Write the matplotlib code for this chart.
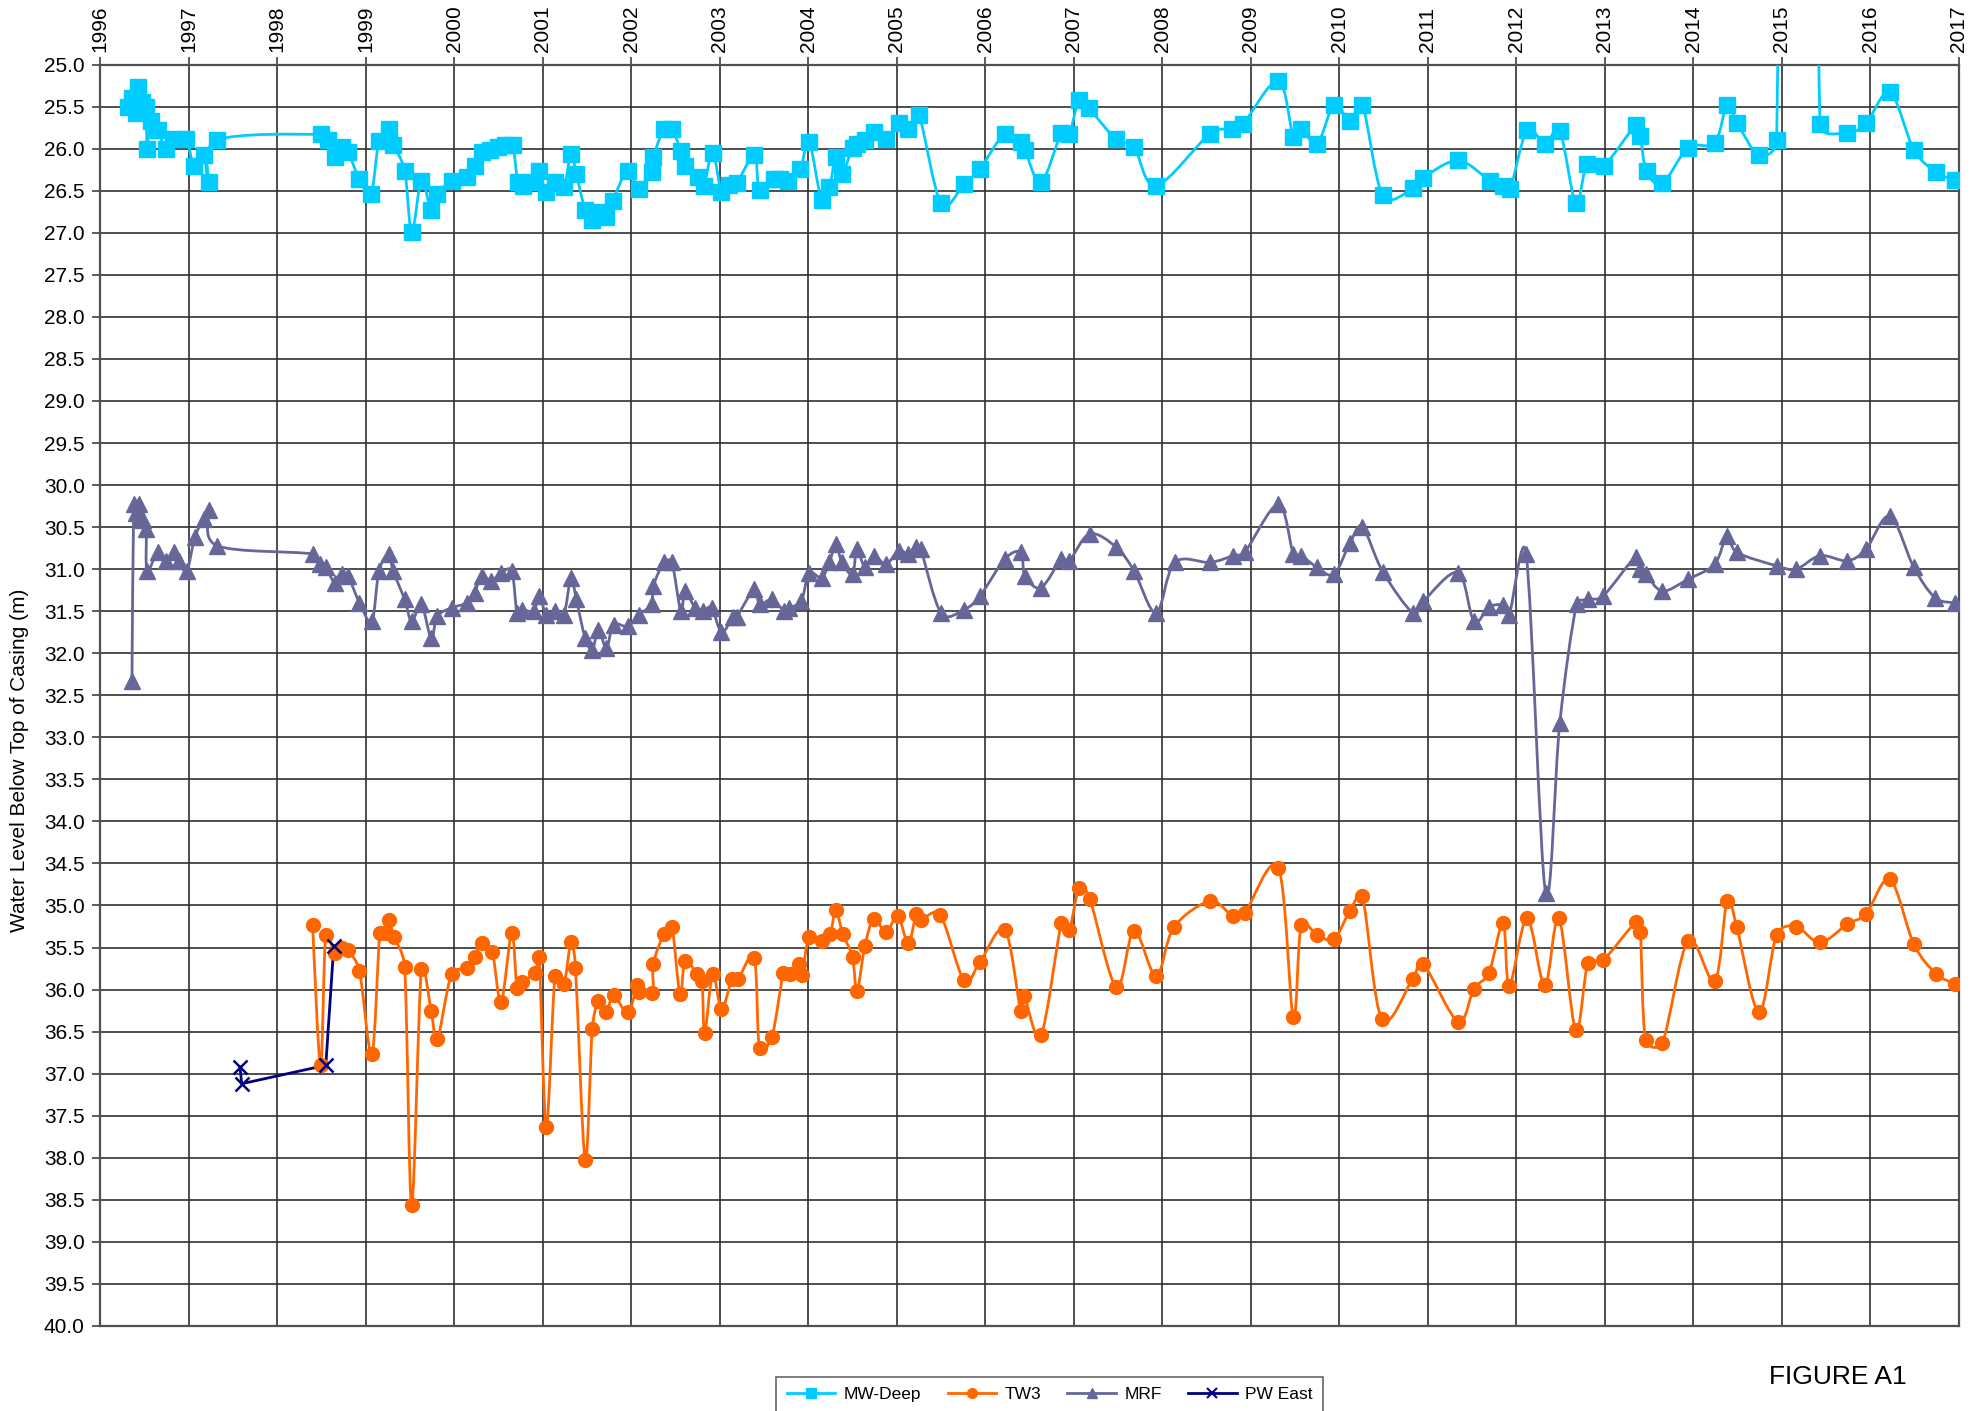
import numpy as np
import matplotlib
matplotlib.use("Agg")
import matplotlib.pyplot as plt
from matplotlib.path import Path
from matplotlib.patches import PathPatch
from matplotlib.lines import Line2D

plt.rcParams['font.family'] = ['Liberation Sans', 'DejaVu Sans']

# ---- data (decimal year, water level below top of casing in m) ----
mw_t = [1996.31, 1996.36, 1996.40, 1996.43, 1996.47, 1996.52, 1996.53, 1996.57, 1996.65, 1996.74,
        1996.82, 1996.97, 1997.06, 1997.17, 1997.23, 1997.32, 1998.49, 1998.57, 1998.65, 1998.73,
        1998.80, 1998.93, 1999.06, 1999.15, 1999.26, 1999.31, 1999.44, 1999.52, 1999.63, 1999.74,
        1999.81, 1999.97, 2000.15, 2000.23, 2000.31, 2000.40, 2000.50, 2000.57, 2000.66, 2000.72,
        2000.78, 2000.90, 2000.96, 2001.04, 2001.14, 2001.24, 2001.32, 2001.38, 2001.48, 2001.56,
        2001.63, 2001.71, 2001.79, 2001.96, 2002.09, 2002.23, 2002.25, 2002.37, 2002.46, 2002.56,
        2002.61, 2002.75, 2002.82, 2002.92, 2003.02, 2003.10, 2003.19, 2003.39, 2003.45, 2003.61,
        2003.68, 2003.77, 2003.91, 2004.01, 2004.15, 2004.24, 2004.31, 2004.38, 2004.50, 2004.55,
        2004.64, 2004.74, 2004.88, 2005.02, 2005.13, 2005.25, 2005.50, 2005.76, 2005.94, 2006.22,
        2006.40, 2006.45, 2006.63, 2006.86, 2006.95, 2007.06, 2007.17, 2007.48, 2007.68, 2007.93,
        2008.54, 2008.79, 2008.91, 2009.31, 2009.48, 2009.57, 2009.75, 2009.94, 2010.12, 2010.26,
        2010.49, 2010.83, 2010.94, 2011.34, 2011.70, 2011.85, 2011.93, 2012.12, 2012.32, 2012.49,
        2012.67, 2012.80, 2012.99, 2013.35, 2013.40, 2013.47, 2013.65, 2013.94, 2014.24, 2014.38,
        2014.49, 2014.74, 2014.94, 2015.16, 2015.43, 2015.74, 2015.95, 2016.22, 2016.49, 2016.74,
        2016.95]
mw_v = [25.50, 25.40, 25.58, 25.27, 25.45, 25.50, 26.00, 25.67, 25.78, 26.00,
        25.88, 25.88, 26.20, 26.08, 26.40, 25.90, 25.83, 25.90, 26.10, 25.98,
        26.04, 26.36, 26.54, 25.91, 25.76, 25.95, 26.26, 26.99, 26.38, 26.73,
        26.54, 26.38, 26.34, 26.20, 26.04, 26.02, 25.98, 25.96, 25.96, 26.40,
        26.44, 26.40, 26.26, 26.52, 26.40, 26.46, 26.06, 26.30, 26.73, 26.85,
        26.75, 26.81, 26.62, 26.26, 26.48, 26.28, 26.10, 25.76, 25.76, 26.03,
        26.20, 26.34, 26.44, 26.05, 26.52, 26.43, 26.41, 26.08, 26.49, 26.36,
        26.36, 26.38, 26.24, 25.92, 26.61, 26.46, 26.10, 26.30, 25.99, 25.94,
        25.90, 25.80, 25.89, 25.70, 25.77, 25.60, 26.65, 26.42, 26.24, 25.82,
        25.92, 26.02, 26.40, 25.81, 25.82, 25.42, 25.52, 25.89, 25.98, 26.44,
        25.82, 25.76, 25.71, 25.19, 25.86, 25.76, 25.94, 25.48, 25.67, 25.48,
        26.55, 26.47, 26.35, 26.14, 26.38, 26.44, 26.48, 25.78, 25.94, 25.79,
        26.64, 26.18, 26.20, 25.72, 25.85, 26.27, 26.41, 25.99, 25.93, 25.48,
        25.69, 26.08, 25.90, 0.00, 25.71, 25.81, 25.70, 25.33, 26.01, 26.28,
        26.37]

tw3_t = [1998.40, 1998.49, 1998.55, 1998.65, 1998.73, 1998.80, 1998.93, 1999.07, 1999.16, 1999.22,
         1999.26, 1999.32, 1999.44, 1999.52, 1999.63, 1999.74, 1999.81, 1999.97, 2000.15, 2000.23,
         2000.31, 2000.43, 2000.53, 2000.65, 2000.71, 2000.77, 2000.91, 2000.96, 2001.04, 2001.14,
         2001.24, 2001.32, 2001.37, 2001.48, 2001.56, 2001.63, 2001.72, 2001.80, 2001.96, 2002.07,
         2002.09, 2002.24, 2002.25, 2002.37, 2002.46, 2002.55, 2002.61, 2002.74, 2002.80, 2002.83,
         2002.92, 2003.02, 2003.14, 2003.21, 2003.39, 2003.45, 2003.59, 2003.72, 2003.79, 2003.90,
         2003.93, 2004.01, 2004.16, 2004.25, 2004.31, 2004.39, 2004.50, 2004.55, 2004.64, 2004.74,
         2004.88, 2005.01, 2005.13, 2005.22, 2005.27, 2005.49, 2005.76, 2005.94, 2006.22, 2006.40,
         2006.44, 2006.63, 2006.86, 2006.95, 2007.06, 2007.18, 2007.48, 2007.68, 2007.93, 2008.13,
         2008.54, 2008.80, 2008.93, 2009.31, 2009.48, 2009.57, 2009.75, 2009.94, 2010.12, 2010.26,
         2010.48, 2010.83, 2010.95, 2011.34, 2011.52, 2011.69, 2011.85, 2011.92, 2012.12, 2012.32,
         2012.48, 2012.67, 2012.81, 2012.98, 2013.35, 2013.40, 2013.46, 2013.65, 2013.94, 2014.24,
         2014.38, 2014.49, 2014.74, 2014.94, 2015.16, 2015.43, 2015.74, 2015.95, 2016.22, 2016.49,
         2016.74, 2016.95]
tw3_v = [35.23, 36.90, 35.35, 35.56, 35.50, 35.53, 35.78, 36.77, 35.33, 35.33,
         35.17, 35.37, 35.73, 38.56, 35.76, 36.25, 36.59, 35.82, 35.74, 35.61,
         35.45, 35.55, 36.15, 35.33, 35.98, 35.91, 35.80, 35.61, 37.63, 35.84,
         35.93, 35.43, 35.74, 38.03, 36.47, 36.14, 36.27, 36.07, 36.27, 35.95,
         36.03, 36.04, 35.69, 35.34, 35.25, 36.05, 35.66, 35.81, 35.90, 36.52,
         35.82, 36.23, 35.87, 35.87, 35.63, 36.70, 36.56, 35.80, 35.82, 35.70,
         35.83, 35.38, 35.42, 35.34, 35.05, 35.34, 35.61, 36.02, 35.48, 35.16,
         35.32, 35.12, 35.45, 35.10, 35.17, 35.11, 35.89, 35.67, 35.29, 36.25,
         36.08, 36.54, 35.21, 35.29, 34.79, 34.92, 35.97, 35.30, 35.84, 35.26,
         34.95, 35.13, 35.09, 34.55, 36.33, 35.23, 35.35, 35.40, 35.06, 34.89,
         36.35, 35.87, 35.70, 36.38, 35.99, 35.80, 35.21, 35.96, 35.15, 35.95,
         35.15, 36.48, 35.68, 35.65, 35.20, 35.32, 36.60, 36.63, 35.42, 35.90,
         34.95, 35.26, 36.27, 35.35, 35.25, 35.44, 35.22, 35.10, 34.69, 35.46,
         35.81, 35.93]

mrf_t = [1996.36, 1996.38, 1996.41, 1996.44, 1996.46, 1996.48, 1996.52, 1996.53, 1996.65, 1996.74,
         1996.83, 1996.89, 1996.98, 1997.07, 1997.17, 1997.23, 1997.32, 1998.40, 1998.48, 1998.55,
         1998.65, 1998.73, 1998.80, 1998.93, 1999.07, 1999.15, 1999.26, 1999.31, 1999.44, 1999.52,
         1999.63, 1999.74, 1999.81, 1999.97, 2000.15, 2000.23, 2000.31, 2000.42, 2000.53, 2000.65,
         2000.71, 2000.77, 2000.90, 2000.96, 2001.04, 2001.14, 2001.24, 2001.32, 2001.38, 2001.48,
         2001.56, 2001.63, 2001.72, 2001.80, 2001.96, 2002.09, 2002.23, 2002.25, 2002.37, 2002.46,
         2002.56, 2002.61, 2002.72, 2002.81, 2002.91, 2003.02, 2003.15, 2003.19, 2003.39, 2003.45,
         2003.59, 2003.73, 2003.78, 2003.92, 2004.01, 2004.15, 2004.24, 2004.31, 2004.38, 2004.50,
         2004.55, 2004.64, 2004.74, 2004.88, 2005.02, 2005.13, 2005.22, 2005.27, 2005.50, 2005.76,
         2005.94, 2006.22, 2006.40, 2006.45, 2006.63, 2006.86, 2006.95, 2007.18, 2007.48, 2007.68,
         2007.93, 2008.14, 2008.54, 2008.80, 2008.93, 2009.31, 2009.48, 2009.57, 2009.75, 2009.94,
         2010.12, 2010.26, 2010.49, 2010.83, 2010.95, 2011.34, 2011.52, 2011.69, 2011.85, 2011.92,
         2012.11, 2012.33, 2012.49, 2012.68, 2012.81, 2012.98, 2013.35, 2013.40, 2013.46, 2013.65,
         2013.94, 2014.24, 2014.38, 2014.49, 2014.94, 2015.16, 2015.43, 2015.74, 2015.95, 2016.22,
         2016.49, 2016.73, 2016.95]
mrf_v = [32.33, 30.23, 30.33, 30.23, 30.38, 30.42, 30.52, 31.02, 30.80, 30.90,
         30.80, 30.90, 31.02, 30.62, 30.40, 30.30, 30.72, 30.82, 30.94, 30.98,
         31.16, 31.06, 31.08, 31.40, 31.62, 31.02, 30.82, 31.02, 31.36, 31.62,
         31.42, 31.82, 31.56, 31.46, 31.40, 31.28, 31.08, 31.14, 31.04, 31.02,
         31.52, 31.48, 31.50, 31.32, 31.54, 31.50, 31.54, 31.10, 31.36, 31.82,
         31.96, 31.72, 31.94, 31.66, 31.68, 31.54, 31.42, 31.20, 30.92, 30.92,
         31.50, 31.26, 31.46, 31.50, 31.46, 31.75, 31.57, 31.57, 31.24, 31.42,
         31.36, 31.50, 31.46, 31.38, 31.05, 31.10, 30.92, 30.70, 30.92, 31.06,
         30.76, 30.98, 30.84, 30.94, 30.78, 30.82, 30.74, 30.76, 31.52, 31.48,
         31.32, 30.88, 30.80, 31.08, 31.22, 30.88, 30.90, 30.58, 30.74, 31.02,
         31.52, 30.92, 30.92, 30.84, 30.80, 30.23, 30.82, 30.84, 30.98, 31.06,
         30.69, 30.50, 31.03, 31.52, 31.38, 31.04, 31.62, 31.45, 31.43, 31.54,
         30.82, 34.85, 32.83, 31.42, 31.36, 31.32, 30.85, 31.00, 31.06, 31.26,
         31.12, 30.94, 30.60, 30.80, 30.96, 31.00, 30.84, 30.90, 30.76, 30.37,
         30.98, 31.34, 31.40]

pw_t = [1997.58, 1997.60, 1998.55, 1998.64]
pw_v = [36.92, 37.12, 36.90, 35.48]

years = list(range(1996, 2018))
y_ticks = np.arange(25.0, 40.01, 0.5)


def smooth_path(x, y, sx=88.5, sy=84.0):
    # Excel-like smoothed line: Bezier segments with Catmull-Rom tangents (limited)
    P = np.column_stack([np.asarray(x) * sx, np.asarray(y) * sy])
    n = len(P)
    verts = [P[0]]
    codes = [Path.MOVETO]
    for i in range(n - 1):
        p0 = P[i - 1] if i > 0 else P[i]
        p1, p2 = P[i], P[i + 1]
        p3 = P[i + 2] if i + 2 < n else P[i + 1]
        seg = np.linalg.norm(p2 - p1)
        t1 = (p2 - p0) / 6.0
        t2 = (p3 - p1) / 6.0
        for t in (t1, t2):
            L = np.linalg.norm(t)
            if L > seg / 2.0 and L > 0:
                t *= (seg / 2.0) / L
        verts += [p1 + t1, p2 - t2, p2]
        codes += [Path.CURVE4] * 3
    verts = np.array(verts) / [sx, sy]
    return Path(verts, codes)


fig = plt.figure(figsize=(19.86, 14.11), dpi=100)
ax = fig.add_axes([0.0504, 0.0603, 0.9360, 0.8939])

series = [
    (mw_t, mw_v, '#00CCFF', 's', 11, 'MW-Deep', True),
    (tw3_t, tw3_v, '#FF6600', 'o', 10, 'TW3', True),
    (mrf_t, mrf_v, '#666699', '^', 11, 'MRF', True),
    (pw_t, pw_v, '#000080', 'x', 10, 'PW East', False),
]

handles = []
for t, v, col, mk, ms, name, smooth in series:
    if smooth:
        ax.add_patch(PathPatch(smooth_path(t, v), fill=False, edgecolor=col, lw=2.0, zorder=3))
    else:
        ax.plot(t, v, color=col, lw=2.0, zorder=3)
    if mk == 'x':
        ax.plot(t, v, linestyle='none', marker=mk, ms=ms, mec=col, mew=1.8, zorder=4)
    else:
        ax.plot(t, v, linestyle='none', marker=mk, ms=ms, mfc=col, mec=col, zorder=4)
    handles.append(Line2D([], [], color=col, lw=2.0, marker=mk, ms=7, mfc=col, mec=col,
                          mew=1.5 if mk == 'x' else 1.0, label=name))

ax.set_xlim(1996, 2017)
ax.set_ylim(40.0, 25.0)
ax.set_xticks(years)
ax.set_xticklabels([str(y) for y in years], rotation=90)
ax.set_yticks(y_ticks)
ax.set_yticklabels(['%.1f' % v for v in y_ticks])
ax.xaxis.tick_top()
ax.tick_params(axis='x', labelsize=15, length=6, width=1.2, color='#404040', pad=3)
ax.tick_params(axis='y', labelsize=15, length=6, width=1.2, color='#404040', pad=5)
ax.grid(True, color='#303030', lw=1.2)
ax.set_axisbelow(True)
for s in ax.spines.values():
    s.set_color('#505050')
    s.set_linewidth(1.6)

fig.text(0.0096, 0.461, 'Water Level Below Top of Casing (m)', rotation=90,
         ha='center', va='center', fontsize=15)
fig.text(0.9255, 0.024, 'FIGURE A1', ha='center', va='center', fontsize=19)

leg = fig.legend(handles=handles, loc='upper left', bbox_to_anchor=(0.3865, 0.0305),
                 ncol=4, fontsize=12.5, frameon=True, fancybox=False, handlelength=2.8,
                 columnspacing=1.5, handletextpad=0.5, borderpad=0.6)
leg.get_frame().set_edgecolor('#404040')
leg.get_frame().set_linewidth(1.2)

fig.savefig('out.png', dpi=100)
